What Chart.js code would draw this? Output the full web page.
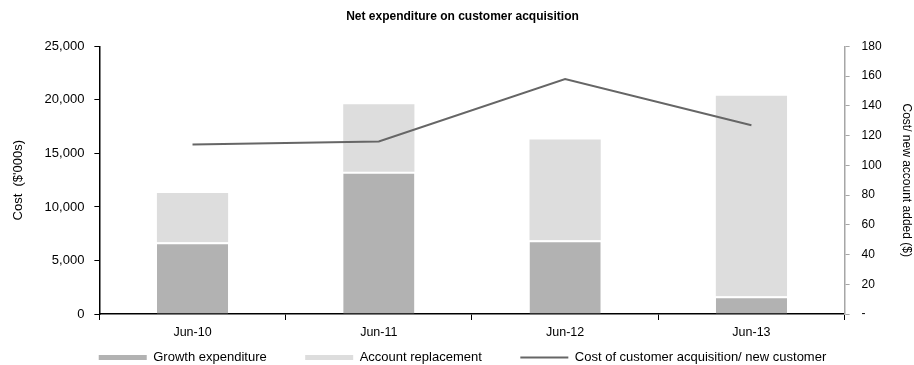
<!DOCTYPE html>
<html>
<head>
<meta charset="utf-8">
<script src="https://cdn.jsdelivr.net/npm/chart.js@4/dist/chart.umd.min.js"></script>
<style>
  html, body { margin: 0; padding: 0; background: #fff; }
  #wrap { width: 914px; height: 365px; }
</style>
</head>
<body>
<div id="wrap"><canvas id="acq-chart"></canvas></div>
<script>
const periods = ['Jun-10', 'Jun-11', 'Jun-12', 'Jun-13'];
const growthSpend = [6700, 13300, 6900, 1650];        // $'000s
const replacementSpend = [4600, 6300, 9400, 18750];   // $'000s
const costPerCustomer = [114, 116, 158, 127];         // $ per new account

const FONT = '"Liberation Sans", Arial, sans-serif';
const LINE_GREY = '#666666';
const LEGEND_GAP = '         '; // extra room after a legend entry

const ctx = document.getElementById('acq-chart').getContext('2d');
new Chart(ctx, {
    data: {
        labels: periods,
        datasets: [{
            type: 'bar',
            label: 'Growth expenditure',
            data: growthSpend,
            backgroundColor: '#b2b2b2',
            borderColor: '#ffffff',
            borderWidth: { top: 2, left: 0, right: 0, bottom: 0 },
            borderSkipped: false,
            yAxisID: 'y',
            stack: 'cost',
            order: 2,
            categoryPercentage: 0.78,
            barPercentage: 0.49
        }, {
            type: 'bar',
            label: 'Account replacement',
            data: replacementSpend,
            backgroundColor: '#dddddd',
            borderWidth: 0,
            yAxisID: 'y',
            stack: 'cost',
            order: 2,
            categoryPercentage: 0.78,
            barPercentage: 0.49
        }, {
            type: 'line',
            label: 'Cost of customer acquisition/ new customer',
            data: costPerCustomer,
            borderColor: LINE_GREY,
            backgroundColor: LINE_GREY,
            borderWidth: 2,
            pointRadius: 0,
            tension: 0,
            yAxisID: 'y1',
            order: 1
        }]
    },
    options: {
        responsive: true,
        maintainAspectRatio: false,
        animation: false,
        layout: { padding: { left: 11, right: 0, top: 0, bottom: -9 } },
        plugins: {
            title: {
                display: true,
                text: 'Net expenditure on customer acquisition',
                color: '#000',
                font: { family: FONT, size: 12, weight: 'bold' },
                padding: { top: 9, bottom: 23 }
            },
            legend: {
                position: 'bottom',
                labels: {
                    color: '#000',
                    font: { family: FONT, size: 13 },
                    usePointStyle: true,
                    pointStyleWidth: 48,
                    boxHeight: 5,
                    padding: 6,
                    generateLabels(chart) {
                        const items = Chart.defaults.plugins.legend.labels.generateLabels(chart);
                        items.sort((a, b) => a.datasetIndex - b.datasetIndex);
                        items.forEach(it => {
                            if (it.datasetIndex === 2) {
                                it.pointStyle = 'line';
                                it.lineWidth = 2;
                                it.strokeStyle = LINE_GREY;
                            } else {
                                it.pointStyle = 'rect';
                                it.lineWidth = 0;
                                it.strokeStyle = it.fillStyle;
                                it.text += LEGEND_GAP;
                            }
                        });
                        return items;
                    }
                }
            },
            tooltip: { enabled: false }
        },
        scales: {
            x: {
                grid: { display: true, drawOnChartArea: false, drawTicks: true, tickLength: 6, color: '#000', offset: true },
                border: { display: true, color: '#000', width: 1.5 },
                ticks: { color: '#000', font: { family: FONT, size: 12.5 }, padding: 5 }
            },
            y: {
                position: 'left',
                min: 0,
                max: 25000,
                grid: { display: true, drawOnChartArea: false, drawTicks: true, tickLength: 5, color: '#000' },
                border: { display: true, color: '#000', width: 1.5 },
                ticks: {
                    stepSize: 5000,
                    color: '#000',
                    font: { family: FONT, size: 13 },
                    padding: 10,
                    callback: v => v.toLocaleString('en-US')
                },
                title: {
                    display: true,
                    text: "Cost  ($'000s)",
                    color: '#000',
                    font: { family: FONT, size: 13 },
                    padding: { top: 0, bottom: 8 }
                }
            },
            y1: {
                position: 'right',
                min: 0,
                max: 180,
                grid: { display: true, drawOnChartArea: false, drawTicks: true, tickLength: 5, color: '#a6a6a6' },
                border: { display: true, color: '#a6a6a6', width: 1.5 },
                ticks: {
                    stepSize: 20,
                    color: '#000',
                    font: { family: FONT, size: 12 },
                    padding: 12,
                    callback: v => (v === 0 ? '-' : v)
                },
                title: {
                    display: true,
                    text: 'Cost/ new account added ($)',
                    color: '#000',
                    font: { family: FONT, size: 12 },
                    padding: { top: 0, bottom: 6 }
                }
            }
        }
    }
});
</script>
</body>
</html>
